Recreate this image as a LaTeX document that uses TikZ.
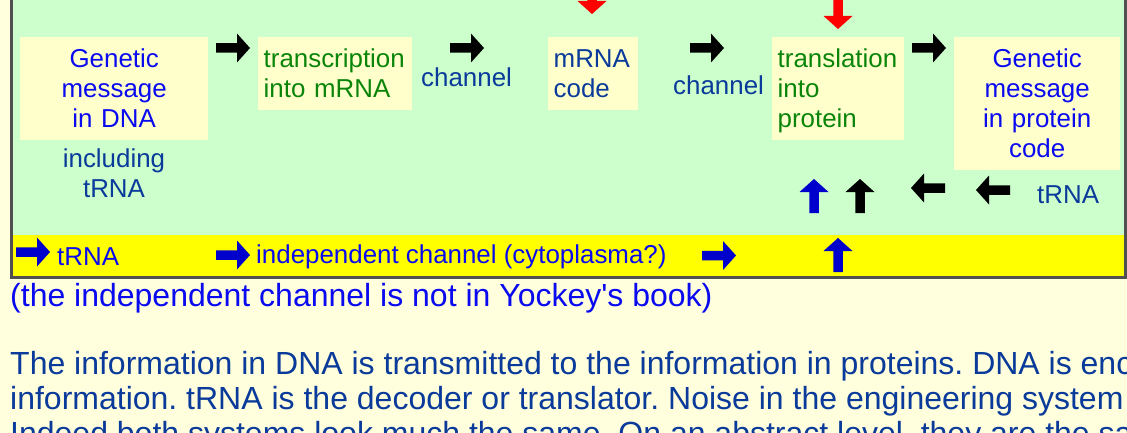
\documentclass[tikz,border=0pt]{standalone}
\usepackage{fontspec}
\setmainfont{Liberation Sans}
\hyphenpenalty=10000
\exhyphenpenalty=10000
\frenchspacing
\definecolor{pagebg}{HTML}{FFFFDD}
\definecolor{framegray}{HTML}{505050}
\definecolor{panelgreen}{HTML}{CCFFCC}
\definecolor{bandyellow}{HTML}{FFFF00}
\definecolor{boxyellow}{HTML}{FFFFCC}
\definecolor{txtblue}{HTML}{0A0AF0}
\definecolor{txtdark}{HTML}{0A3A9A}
\definecolor{txtgreen}{HTML}{0A850A}
\definecolor{arrblue}{HTML}{0000CC}
\definecolor{arrred}{HTML}{FF0000}
\newcommand\bfnt{\fontsize{25.9pt}{29.8pt}\selectfont}
\newcommand\pfnt{\fontsize{32pt}{36.8pt}\selectfont}
\newcommand\bst{\rule[-5.9pt]{0pt}{29.8pt}}
\tikzset{
  msgbox/.style={fill=boxyellow, inner xsep=5.5pt, inner ysep=0pt, anchor=north west, font=\bfnt},
  lbl/.style={inner sep=0pt, font=\bfnt, anchor=base west},
  para/.style={inner sep=0pt, font=\pfnt\frenchspacing, anchor=base west},
  fatarrow/.pic={\fill (0,-4.75) -- (21,-4.75) -- (21,-14.5) -- (34,0) -- (21,14.5) -- (21,4.75) -- (0,4.75) -- cycle;}
}
\begin{document}
\begin{tikzpicture}[x=1pt,y=-1pt]
\useasboundingbox (0,0) rectangle (1127,433);
\clip (0,0) rectangle (1127,433);
\fill[pagebg] (0,0) rectangle (1127,433);
% frame
\fill[framegray] (10,-5) rectangle (1127,279);
\fill[panelgreen] (13,-5) rectangle (1124,235);
\fill[bandyellow] (13,235) rectangle (1124,276);
% boxes
\node[msgbox, text width=177pt, align=center, minimum height=103pt, text=txtblue] (dna) at (20,37) {\bst Genetic\\\bst message\\\bst in DNA};
\node[msgbox, text width=143pt, align=left, minimum height=73pt, text=txtgreen] (transc) at (258,37) {\bst transcription\\\bst into mRNA};
\node[msgbox, text width=79pt, align=left, minimum height=73pt, text=txtdark] (mrna) at (548,37) {\bst mRNA\\\bst code};
\node[msgbox, text width=121pt, align=left, minimum height=103pt, text=txtgreen] (transl) at (772,37) {\bst translation\\\bst into\\\bst protein};
\node[msgbox, text width=155pt, align=center, minimum height=133pt, text=txtblue] (prot) at (954,37) {\bst Genetic\\\bst message\\\bst in protein\\\bst code};
% free labels
\node[lbl, anchor=north, align=center, text=txtdark] (incl) at (114,143.1) {\bst including\\\bst tRNA};
\node[lbl, text=txtdark] (ch1) at (421,87) {channel};
\node[lbl, text=txtdark] (ch2) at (673,95) {channel};
\node[lbl, text=txtdark] (trna) at (1037,203) {tRNA};
\node[lbl, text=txtblue] (btrna) at (57,265) {tRNA};
\node[lbl, text=txtblue] (indep) at (256,263) {independent channel (cytoplasma?)};
% arrows
\pic[black] (ar1) at (216,48) {fatarrow};
\pic[black] (ar2) at (450,48) {fatarrow};
\pic[black] (ar3) at (690,48) {fatarrow};
\pic[black] (ar4) at (912,48) {fatarrow};
\pic[arrred, rotate=-90] (rd1) at (592,-20) {fatarrow};
\pic[arrred, rotate=-90] (rd2) at (838,-5) {fatarrow};
\pic[arrblue, rotate=90] (up1) at (814,213) {fatarrow};
\pic[black, rotate=90] (up2) at (860,213) {fatarrow};
\pic[black, rotate=180] (lf1) at (945,188) {fatarrow};
\pic[black, rotate=180] (lf2) at (1010,190) {fatarrow};
\pic[arrblue] (bb1) at (16,252) {fatarrow};
\pic[arrblue] (bb2) at (216,255) {fatarrow};
\pic[arrblue] (bb3) at (702,255.5) {fatarrow};
\pic[arrblue, rotate=90] (bup) at (838,272) {fatarrow};
% text below
\node[para, text=txtblue] (note) at (10,306) {(the independent channel is not in Yockey\textquotesingle s book)};
\node[para, text=txtdark] (p1) at (10,374.5) {The information in DNA is transmitted to the information in proteins. DNA is enc};
\node[para, text=txtdark] (p2) at (10,409) {information. tRNA is the decoder or translator. Noise in the engineering system};
\node[para, text=txtdark] (p3) at (10,444) {Indeed both systems look much the same. On an abstract level, they are the sa};
\end{tikzpicture}
\end{document}
